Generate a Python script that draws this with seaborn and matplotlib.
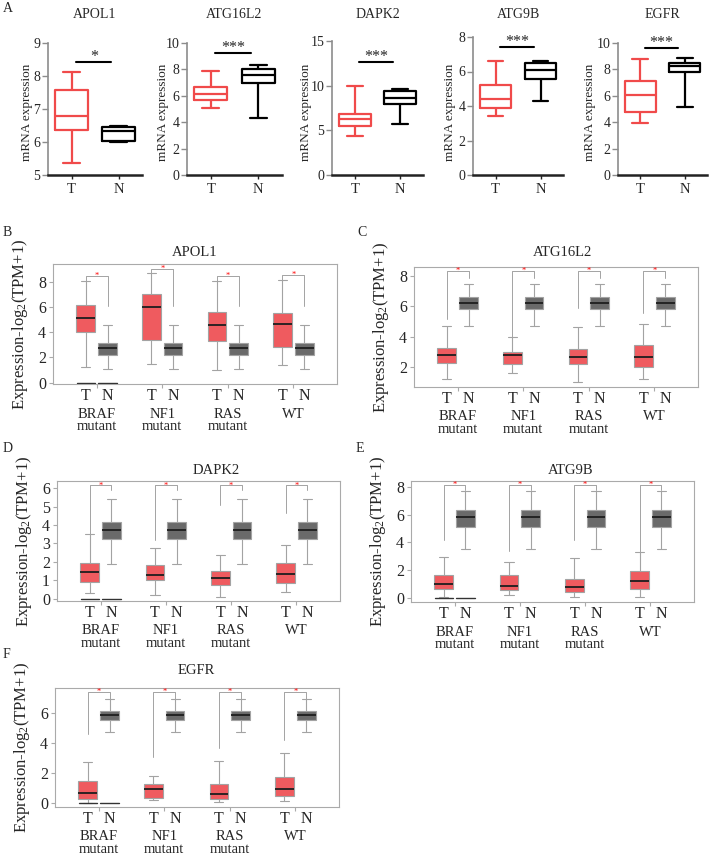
import numpy as np
import pandas as pd
import matplotlib
matplotlib.use("Agg")
import matplotlib.pyplot as plt
import seaborn as sns

W, H = 709, 860

# ---------------- panel A: mRNA expression, tumour vs normal ----------------
a_genes = ["APOL1", "ATG16L2", "DAPK2", "ATG9B", "EGFR"]
# five-number summaries: low whisker, Q1, median, Q3, high whisker
a_tumor = [
    [5.37, 6.37, 6.77, 7.57, 8.10],
    [5.10, 5.66, 6.12, 6.63, 7.91],
    [4.39, 5.50, 6.26, 6.80, 10.00],
    [3.42, 3.90, 4.40, 5.23, 6.63],
    [3.95, 4.80, 6.03, 7.10, 8.77],
]
a_normal = [
    [5.99, 6.04, 6.34, 6.46, 6.48],
    [4.34, 6.94, 7.60, 8.04, 8.34],
    [5.70, 7.95, 8.59, 9.37, 9.64],
    [4.31, 5.54, 6.10, 6.50, 6.63],
    [5.15, 7.77, 8.28, 8.50, 8.87],
]
a_sig_y = [8.42, 9.23, 12.7, 7.42, 9.62]
a_sig_txt = ["*", "***", "***", "***", "***"]
a_ylim = [(5, 9), (0, 10), (0, 15), (0, 8), (0, 10)]
a_yticks = [[5, 6, 7, 8, 9], [0, 2, 4, 6, 8, 10], [0, 5, 10, 15],
            [0, 2, 4, 6, 8], [0, 2, 4, 6, 8, 10]]

# ---------------- panels B-F: expression by mutation subtype ----------------
group_labels = ["BRAF\nmutant", "NF1\nmutant", "RAS\nmutant", "WT"]

apol1_t = [[1.23, 4.04, 5.12, 6.14, 8.06], [1.52, 3.36, 5.98, 7.06, 8.66],
           [0.97, 3.33, 4.59, 5.62, 8.08], [1.39, 2.81, 4.65, 5.49, 8.14]]
apol1_n = [1.05, 2.20, 2.76, 3.18, 4.59]
apol1_bracket = [8.45, 9.03, 8.45, 8.56]
apol1_t_top = [8.06, 8.66, 8.08, 8.14]
apol1_n_top = [6.1, 6.1, 6.1, 6.1]

atg16l2_t = [[1.21, 2.26, 2.81, 3.25, 4.68], [1.60, 2.20, 2.77, 3.03, 3.97],
             [0.99, 2.20, 2.70, 3.20, 4.63], [1.21, 2.00, 2.68, 3.43, 4.83]]
atg16l2_n = [4.68, 5.82, 6.21, 6.60, 7.47]
atg16l2_bracket = [8.33, 8.33, 8.33, 8.33]
atg16l2_t_top = [5.2, 4.0, 5.9, 5.6]
atg16l2_n_top = [7.9, 7.9, 7.9, 7.9]

dapk2_t = [[0.31, 0.90, 1.44, 1.97, 3.54], [0.22, 1.00, 1.29, 1.83, 2.73],
           [0.13, 0.75, 1.15, 1.53, 2.37], [0.36, 0.86, 1.33, 1.92, 2.94]]
dapk2_n = [1.89, 3.23, 3.72, 4.17, 5.42]
dapk2_bracket = [6.14, 6.14, 6.14, 6.14]
dapk2_t_top = [3.54, 3.2, 5.1, 4.65]
dapk2_n_top = [5.9, 5.9, 5.9, 5.9]

atg9b_t = [[0.10, 0.67, 1.03, 1.68, 2.96], [0.19, 0.55, 0.84, 1.63, 2.60],
           [0.07, 0.43, 0.79, 1.39, 2.84], [0.07, 0.67, 1.23, 1.95, 3.27]]
atg9b_n = [3.49, 5.12, 5.84, 6.32, 7.72]
atg9b_bracket = [8.12, 8.12, 8.12, 8.12]
atg9b_t_top = [4.2, 3.4, 4.2, 3.3]
atg9b_n_top = [7.75, 7.75, 7.75, 7.75]

egfr_t = [[0.00, 0.30, 0.70, 1.46, 2.77], [0.20, 0.37, 0.92, 1.29, 1.79],
          [0.11, 0.31, 0.59, 1.29, 2.82], [0.15, 0.48, 0.96, 1.75, 3.32]]
egfr_n = [4.74, 5.55, 5.87, 6.09, 6.88]
egfr_bracket = [7.36, 7.36, 7.36, 7.36]
egfr_t_top = [4.6, 3.1, 3.65, 4.2]
egfr_n_top = [6.9, 6.9, 6.9, 6.9]

# BRAF group also shows a flat line at zero for both T and N
floor_value = 0.0

A_RED = "#F04A4A"
T_FILL = "#EF5B5F"
N_FILL = "#6A6A6A"
GREY = "#A3A3A3"

sns.set_style("ticks")
plt.rcParams["font.family"] = ["Liberation Serif", "DejaVu Serif"]
plt.rcParams["mathtext.fontset"] = "custom"
plt.rcParams["mathtext.rm"] = "Liberation Serif"
plt.rcParams["mathtext.it"] = "Liberation Serif:italic"

fig = plt.figure(figsize=(W / 100, H / 100), dpi=100)


def px_axes(l, r, t, b):
    return fig.add_axes([l / W, 1 - b / H, (r - l) / W, (b - t) / H])


def px_text(x, y, s, **kw):
    fig.text(x / W, 1 - y / H, s, **kw)


# ---- A ----
a_rects = [(48, 142, 42.5), (187, 282, 43), (332, 423, 41), (473, 563, 37), (618, 707, 43)]
a_label_x = [27, 163, 306, 450, 590]
px_text(3, 8, "A", fontsize=10, va="center")
for i, gene in enumerate(a_genes):
    l, r, t = a_rects[i]
    ax = px_axes(l, r, t, 175)
    df = pd.DataFrame({"tissue": ["T"] * 5 + ["N"] * 5,
                       "value": a_tumor[i] + a_normal[i]})
    sns.boxplot(data=df, x="tissue", y="value", hue="tissue", order=["T", "N"],
                hue_order=["T", "N"], palette={"T": A_RED, "N": "black"},
                fill=False, width=0.7, whis=(0, 100), linewidth=1.6,
                legend=False, ax=ax)
    ax.set_xlim(-0.5, 1.5)
    ax.set_ylim(*a_ylim[i])
    ax.set_yticks(a_yticks[i])
    ax.set_xticks([0, 1], ["T", "N"])
    ax.set_xlabel("")
    ax.set_ylabel("")
    sns.despine(ax=ax)
    ax.spines["left"].set_color("#8C8C8C")
    ax.spines["left"].set_linewidth(1.2)
    ax.spines["bottom"].set_color("#222222")
    ax.spines["bottom"].set_linewidth(1.8)
    ax.tick_params(axis="y", length=4, width=1, color="#8C8C8C", labelsize=10, pad=1.5)
    ax.tick_params(axis="x", length=3, width=1, color="#222222", labelsize=10.5, pad=3)
    ax.plot([0.1, 0.85], [a_sig_y[i]] * 2, color="black", lw=1.5, clip_on=False)
    ax.annotate(a_sig_txt[i], (0.475, a_sig_y[i]), xytext=(0, 0.5),
                textcoords="offset points", ha="center", va="baseline",
                fontsize=11.5, annotation_clip=False)
    px_text(a_label_x[i], 112, "mRNA expression", rotation=90, ha="center",
            va="center", fontsize=9.5)
    px_text((l + r) / 2, 15, gene, fontsize=10, ha="center", va="center")


# ---- B-F ----
def gepia_panel(letter, letter_xy, rect, title, title_xy, t_stats, n_stats,
                ylim, yticks, bracket, t_top, n_top, floor):
    l, r, t, b = rect
    px_text(letter_xy[0], letter_xy[1], letter, fontsize=10, va="center")
    px_text(title_xy[0], title_xy[1], title, fontsize=10.5, ha="center", va="center")
    ax = px_axes(l, r, t, b)
    n_groups = len(group_labels)
    t_pos = [3 * g + 1.5 for g in range(n_groups)]
    n_pos = [p + 1 for p in t_pos]
    rows = []
    for g in range(n_groups):
        rows += [(t_pos[g], "T", v) for v in t_stats[g]]
        rows += [(n_pos[g], "N", v) for v in n_stats]
    df = pd.DataFrame(rows, columns=["pos", "tissue", "value"])
    if floor:
        for p in (t_pos[0], n_pos[0]):
            ax.plot([p - 0.42, p + 0.42], [floor_value] * 2, color="#333333",
                    lw=1.0, zorder=3)
    sns.boxplot(data=df, x="pos", y="value", hue="tissue", native_scale=True,
                dodge=False, palette={"T": T_FILL, "N": N_FILL}, saturation=1,
                width=0.85, whis=(0, 100), linecolor=GREY, linewidth=0.8,
                medianprops={"color": "#1E1E1E", "linewidth": 1.3},
                legend=False, ax=ax)
    for g in range(n_groups):
        x0, x1 = t_pos[g], n_pos[g]
        y = bracket[g]
        ax.plot([x0, x0, x1, x1], [t_top[g], y, y, n_top[g]], color=GREY,
                lw=0.7, zorder=1)
        ax.text((x0 + x1) / 2, y, "*", color="red", fontsize=6, ha="center",
                va="center")
    ax.set_xlim(0, 13)
    ax.set_ylim(*ylim)
    ax.set_yticks(yticks)
    ax.set_xticks([3 * g + 2 for g in range(n_groups)], [""] * n_groups)
    ax.set_xlabel("")
    ax.set_ylabel("")
    for s in ax.spines.values():
        s.set_color("#AAAAAA")
        s.set_linewidth(0.8)
    ax.tick_params(axis="both", length=3, width=0.8, color="#AAAAAA")
    ax.tick_params(axis="y", labelsize=11.5, pad=2)
    trans = ax.get_xaxis_transform()
    h = b - t
    for g in range(n_groups):
        ax.text(t_pos[g], -12 / h, "T", transform=trans, ha="center", va="center",
                fontsize=11.5)
        ax.text(n_pos[g], -12 / h, "N", transform=trans, ha="center", va="center",
                fontsize=11.5)
        ax.text(3 * g + 2, -23.5 / h, group_labels[g], transform=trans, ha="center",
                va="top", fontsize=10.5, linespacing=0.95)
    ax.text(-33 / (r - l), 0.5, r"Expression-log$_2$(TPM+1)", rotation=90,
            ha="center", va="center", fontsize=12, transform=ax.transAxes)


gepia_panel("B", (3, 233), (53, 337, 264, 384), "APOL1", (195, 252),
            apol1_t, apol1_n, (-0.1, 9.4), [0, 2, 4, 6, 8],
            apol1_bracket, apol1_t_top, apol1_n_top, True)
gepia_panel("C", (357, 233), (414, 698, 267, 387), "ATG16L2", (562, 252),
            atg16l2_t, atg16l2_n, (0.69, 8.6), [2, 4, 6, 8],
            atg16l2_bracket, atg16l2_t_top, atg16l2_n_top, False)
gepia_panel("D", (3, 448), (57, 340, 481, 601), "DAPK2", (216, 471),
            dapk2_t, dapk2_n, (-0.11, 6.38), [0, 1, 2, 3, 4, 5, 6],
            dapk2_bracket, dapk2_t_top, dapk2_n_top, True)
gepia_panel("E", (356, 448), (411, 694, 481, 602), "ATG9B", (571, 470),
            atg9b_t, atg9b_n, (-0.29, 8.41), [0, 2, 4, 6, 8],
            atg9b_bracket, atg9b_t_top, atg9b_n_top, True)
gepia_panel("F", (3, 655), (55, 339, 688, 807), "EGFR", (196, 671),
            egfr_t, egfr_n, (-0.24, 7.64), [0, 2, 4, 6],
            egfr_bracket, egfr_t_top, egfr_n_top, True)

fig.savefig("out.png", dpi=100)
